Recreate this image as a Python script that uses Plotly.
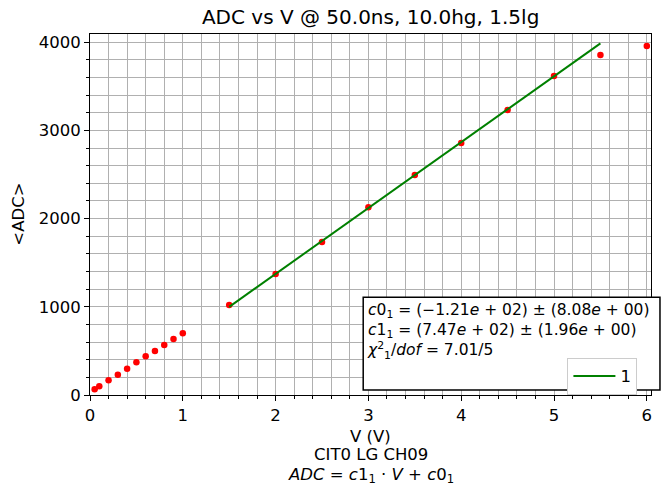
import plotly.graph_objects as go

# data
v_low = [0.05, 0.1, 0.2, 0.3, 0.4, 0.5, 0.6, 0.7, 0.8, 0.9, 1.0]
adc_low = [65, 99, 167, 230, 298, 371, 439, 499, 567, 635, 700]
v_high = [1.5, 2.0, 2.5, 3.0, 3.5, 4.0, 4.5, 5.0, 5.5, 6.0]
adc_high = [1020, 1372, 1735, 2130, 2494, 2857, 3231, 3617, 3855, 3957]
c0 = -121.0
c1 = 747.0
fit_v = [1.5, 5.5]
fit_adc = [c1 * v + c0 for v in fit_v]

FONT = "DejaVu Sans"
FS = 16.5

fig = go.Figure()
fig.add_trace(go.Scatter(x=v_low + v_high, y=adc_low + adc_high, mode="markers",
                         marker=dict(color="red", size=6.5), showlegend=False, cliponaxis=True))
fig.add_trace(go.Scatter(x=fit_v, y=fit_adc, mode="lines", line=dict(color="green", width=2),
                         name="1", showlegend=True))

axis_common = dict(showline=True, mirror=True, linecolor="black", linewidth=1,
                   ticks="outside", ticklen=5, tickcolor="black",
                   showgrid=True, gridcolor="#b0b0b0", gridwidth=1, zeroline=False,
                   tickfont=dict(family=FONT, size=FS, color="black"))

fig.update_xaxes(range=[0, 6.045], dtick=1, tick0=0,
                 minor=dict(dtick=0.2, ticks="outside", ticklen=3, tickcolor="black",
                            showgrid=True, gridcolor="#b0b0b0", gridwidth=1),
                 **axis_common)
fig.update_yaxes(range=[0, 4093], dtick=1000, tick0=0,
                 minor=dict(dtick=200, ticks="outside", ticklen=3, tickcolor="black",
                            showgrid=True, gridcolor="#b0b0b0", gridwidth=1),
                 **axis_common)

# stats box
fig.add_shape(type="rect", xref="paper", yref="paper", x0=0.487, x1=1.016, y0=0.014, y1=0.271,
              line=dict(color="black", width=1.5), fillcolor="white", layer="above")
box_text = ("<i>c</i>0<sub>1</sub> = (−1.21<i>e</i> + 02) ± (8.08<i>e</i> + 00)<br>"
            "<i>c</i>1<sub>1</sub> = (7.47<i>e</i> + 02) ± (1.96<i>e</i> + 00)<br>"
            "<i>χ</i><sup>2</sup><sub>1</sub>/<i>dof</i> = 7.01/5")
fig.add_annotation(xref="paper", yref="paper", x=0.49, y=0.266, xanchor="left", yanchor="top",
                   text=box_text, showarrow=False, align="left",
                   font=dict(family=FONT, size=15.5, color="black"))

# labels
lab = dict(xref="paper", yref="paper", showarrow=False, xanchor="center", yanchor="middle",
           font=dict(family=FONT, size=FS, color="black"))
fig.add_annotation(x=0.5, y=-0.114, text="V (V)", **lab)
fig.add_annotation(x=0.5, y=-0.166, text="CIT0 LG CH09", **lab)
fig.add_annotation(x=0.5, y=-0.222,
                   text="<i>ADC</i> = <i>c</i>1<sub>1</sub> · <i>V</i> + <i>c</i>0<sub>1</sub>", **lab)
fig.add_annotation(x=-0.128, y=0.5, text="&lt;ADC&gt;", textangle=-90, **lab)

fig.update_layout(
    width=669, height=486,
    margin=dict(l=90, r=18, t=34, b=91),
    paper_bgcolor="white", plot_bgcolor="white",
    title=dict(text="ADC vs V @ 50.0ns, 10.0hg, 1.5lg", x=0.554, xanchor="center",
               y=1 - 17 / 486, yanchor="middle", yref="container",
               font=dict(family=FONT, size=20, color="black")),
    legend=dict(x=0.851, y=0.103, xanchor="left", yanchor="top", bordercolor="#cccccc",
                borderwidth=1, bgcolor="white", itemwidth=42,
                font=dict(family=FONT, size=FS, color="black")),
)

fig.write_html("out.html")
